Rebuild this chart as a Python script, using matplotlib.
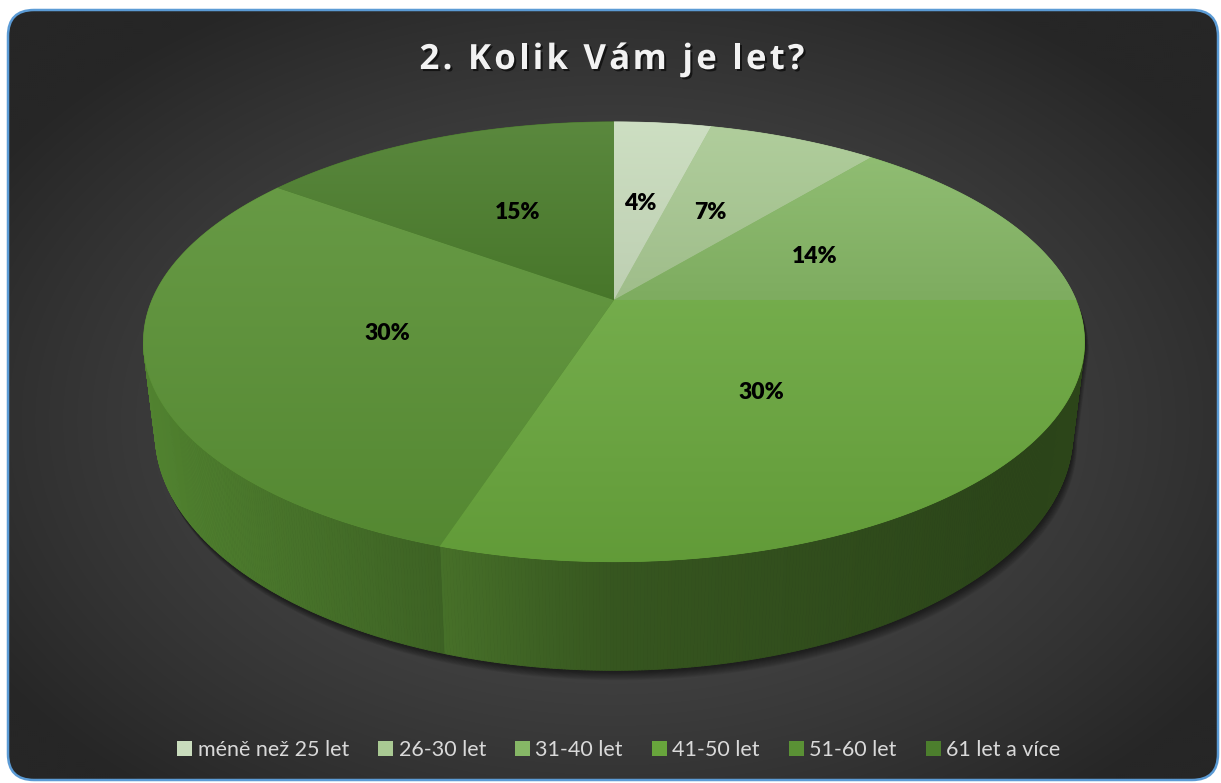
import numpy as np
import matplotlib.pyplot as plt
from matplotlib.patches import FancyBboxPatch, Polygon, Patch
from matplotlib.collections import PolyCollection
import matplotlib.patheffects as pe
from matplotlib.colors import to_rgb

plt.rcParams['font.family'] = ['Lato', 'DejaVu Sans']

# data
title = '2. Kolik Vám je let?'
categories = ['méně než 25 let', '26-30 let', '31-40 let', '41-50 let', '51-60 let', '61 let a více']
shares = [4, 7, 14, 30, 30, 15]
colors = ['#c9dcbd', '#a9c993', '#86b766', '#68a53c', '#5a9135', '#4c7e2d']

W, H = 1221, 783
fig = plt.figure(figsize=(W / 100, H / 100), dpi=100)
fig.patch.set_facecolor('white')
ax = fig.add_axes([0, 0, 1, 1])
ax.axis('off')

# rounded dark card with radial gradient
yy, xx = np.mgrid[0:H:2, 0:W:2]
d = np.sqrt(((xx - 612) / (W * 0.6)) ** 2 + ((yy - 420) / (H * 0.62)) ** 2)
d = np.clip(d, 0, 1) ** 1.5
inner, outer = np.array(to_rgb('#4e4e4e')), np.array(to_rgb('#262626'))
bg_img = inner + (outer - inner) * d[..., None]
im = ax.imshow(bg_img, extent=(0, W, H, 0), zorder=0, interpolation='bilinear', aspect='auto')
card = FancyBboxPatch((8, 10), 1210, 770, boxstyle='round,pad=0,rounding_size=26',
                      fc='none', ec='none')
ax.add_patch(card)
im.set_clip_path(card)
ax.add_patch(FancyBboxPatch((8, 10), 1210, 770, boxstyle='round,pad=0,rounding_size=26',
                            fc='none', ec='#5b9bd5', lw=1.8, zorder=20))

# perspective projection of the pie disc
CX, CY, RX, RY, P, DEPTH, SHRINK = 614, 300, 462, 212, 0.19, 88, 0.975


def top_pt(theta, r=1.0):
    X = r * np.sin(theta)
    Y = r * np.cos(theta)
    w = 1 + P * Y
    return CX + RX * X / w, CY - RY * Y / w


def bottom_pt(theta):
    x, y = top_pt(theta)
    w = 1 + P * np.cos(theta)
    return CX + (x - CX) * SHRINK, y + DEPTH / w


vals = np.array(shares, dtype=float)
bounds = np.concatenate([[0], np.cumsum(vals)]) / vals.sum() * 2 * np.pi
th_r = np.arccos(-P)
th_l = 2 * np.pi - th_r

# drop shadow under the disc
t_up = np.concatenate([np.linspace(th_l, 2 * np.pi, 80), np.linspace(0, th_r, 80)])
t_dn = np.linspace(th_r, th_l, 160)
sil = np.vstack([np.column_stack(top_pt(t_up)), np.column_stack(bottom_pt(t_dn))])
for k in range(1, 12):
    ax.add_patch(Polygon(sil + [0.4 * k, 0.9 * k], closed=True, fc='black', ec='none',
                         alpha=0.06, zorder=1))

# outer walls
shade_x = [140, 450, 614, 1000, 1095]
shade_f = [0.9, 0.67, 0.52, 0.42, 0.42]
quads, qcols = [], []
for i in range(len(vals)):
    lo, hi = max(bounds[i], th_r), min(bounds[i + 1], th_l)
    if hi <= lo:
        continue
    t = np.linspace(lo, hi, max(3, int((hi - lo) / 0.006)))
    tx, ty = top_pt(t)
    bx, by = bottom_pt(t)
    base = np.array(to_rgb(colors[i]))
    for j in range(len(t) - 1):
        quads.append([(tx[j], ty[j]), (tx[j + 1], ty[j + 1]), (bx[j + 1], by[j + 1]), (bx[j], by[j])])
        f = np.interp((tx[j] + tx[j + 1]) / 2, shade_x, shade_f)
        qcols.append(base * f)
ax.add_collection(PolyCollection(quads, facecolors=qcols, edgecolors=qcols, linewidths=0.6, zorder=2))

# top faces with a soft vertical gradient
for i in range(len(vals)):
    t = np.linspace(bounds[i], bounds[i + 1], 200)
    px, py = top_pt(t)
    pts = np.vstack([[CX, CY], np.column_stack([px, py])])
    base = np.array(to_rgb(colors[i]))
    poly = Polygon(pts, closed=True, fc=base, ec=base, lw=0.5, zorder=3)
    ax.add_patch(poly)
    top_c = base + (1 - base) * 0.08
    bot_c = base * 0.94
    grad = np.linspace(0, 1, 128)[:, None, None]
    g_img = np.repeat(top_c + (bot_c - top_c) * grad, 2, axis=1)
    x0, x1 = pts[:, 0].min(), pts[:, 0].max()
    y0, y1 = pts[:, 1].min(), pts[:, 1].max()
    gi = ax.imshow(g_img, extent=(x0, x1, y1, y0), zorder=4, interpolation='bilinear', aspect='auto')
    gi.set_clip_path(poly)

    mid = (bounds[i] + bounds[i + 1]) / 2
    lx, ly = top_pt(mid, 0.5)
    ax.text(lx, ly, f'{shares[i]}%', ha='center', va='center', fontsize=16.5,
            fontweight='heavy', color='black', zorder=6)

ax.set_xlim(0, W)
ax.set_ylim(H, 0)

# title with letter spacing
fig.canvas.draw()
rend = fig.canvas.get_renderer()
tkw = dict(fontsize=25, fontweight='bold', color='#f2f2f2', family=['Open Sans', 'DejaVu Sans'])


def text_w(s):
    t = ax.text(0, 0, s, **tkw)
    w = t.get_window_extent(rend).width
    t.remove()
    return w


bar_w = text_w('|')
offs = [text_w(title[:k] + '|') - bar_w for k in range(len(title))]
full_w = text_w(title)
spacing = max(0, (385 - full_w) / (len(title) - 1))
total = full_w + spacing * (len(title) - 1)
x_start = 612 - total / 2
for k, ch in enumerate(title):
    ax.text(x_start + offs[k] + k * spacing, 69, ch, ha='left', va='baseline',
            path_effects=[pe.withSimplePatchShadow(offset=(1.5, -1.5), shadow_rgbFace='black', alpha=0.6)],
            zorder=10, **tkw)

# legend
handles = [Patch(facecolor=c, edgecolor='none') for c in colors]
ax.legend(handles, categories, loc='center', bbox_to_anchor=(619 / W, 1 - 750 / H), ncol=6,
          frameon=False, fontsize=15.5, labelcolor='#d9d9d9', handlelength=0.7, handleheight=0.7,
          handletextpad=0.25, columnspacing=1.35, borderaxespad=0)

fig.savefig('out.png', dpi=100)
